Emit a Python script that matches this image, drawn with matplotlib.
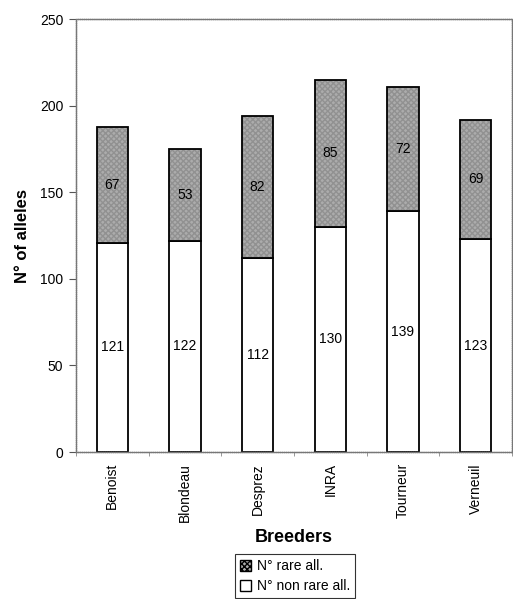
import matplotlib
matplotlib.use("Agg")
import matplotlib.pyplot as plt
import numpy as np
from matplotlib.patches import Patch

plt.rcParams['font.family'] = ['Liberation Sans', 'DejaVu Sans']

breeders = ["Benoist", "Blondeau", "Desprez", "INRA", "Tourneur", "Verneuil"]
non_rare = [121, 122, 112, 130, 139, 123]
rare = [67, 53, 82, 85, 72, 69]

fig = plt.figure(figsize=(5.13, 5.99), dpi=100)
ax = fig.add_axes([0.148, 0.2454, 0.85, 0.7225])

x = np.arange(len(breeders))
width = 0.43

# lower segment: non-rare alleles
ax.bar(x, non_rare, width, color="white", edgecolor="black", linewidth=1.3, zorder=2)
# upper segment: rare alleles, textured grey fill then black outline
ax.bar(x, rare, width, bottom=non_rare, color="#acacac", edgecolor="#919191",
       hatch="xxxxxx", linewidth=0, zorder=2)
ax.bar(x, rare, width, bottom=non_rare, fill=False, edgecolor="black",
       linewidth=1.3, zorder=3)

for xi, n, r in zip(x, non_rare, rare):
    ax.text(xi, n / 2, str(n), ha="center", va="center", fontsize=10, zorder=4)
    ax.text(xi, n + r / 2, str(r), ha="center", va="center", fontsize=10, zorder=4)

ax.set_xlim(-0.5, len(breeders) - 0.5)
ax.set_ylim(0, 250)
ax.set_yticks(np.arange(0, 251, 50))
ax.set_xticks(x)
ax.set_xticklabels(breeders, rotation=90, fontsize=10)
ax.set_xticks(np.arange(-0.5, len(breeders), 1), minor=True)
ax.tick_params(axis="x", which="major", length=0, pad=8)
ax.tick_params(axis="x", which="minor", length=3, color="#888888")
ax.tick_params(axis="y", length=5, labelsize=10, color="#555555", pad=4)

for s in ax.spines.values():
    s.set_color("#777777")
    s.set_linewidth(1.0)
    s.set_linestyle((0, (1, 0.5)))

ax.set_ylabel("N° of alleles", fontsize=12, fontweight="bold", labelpad=7)
ax.set_xlabel("Breeders", fontsize=13, fontweight="bold", labelpad=5)

handles = [Patch(facecolor="#acacac", edgecolor="black", hatch="xxxxxx"),
           Patch(facecolor="white", edgecolor="black")]
leg = fig.legend(handles, ["N° rare all.", "N° non rare all."],
                 loc="center", bbox_to_anchor=(0.575, 0.038), fontsize=10,
                 frameon=True, fancybox=False, edgecolor="black",
                 handlelength=0.8, handleheight=0.8, handletextpad=0.4,
                 borderpad=0.35, labelspacing=0.45)
leg.get_frame().set_linewidth(0.8)

fig.savefig("out.png", dpi=100)
